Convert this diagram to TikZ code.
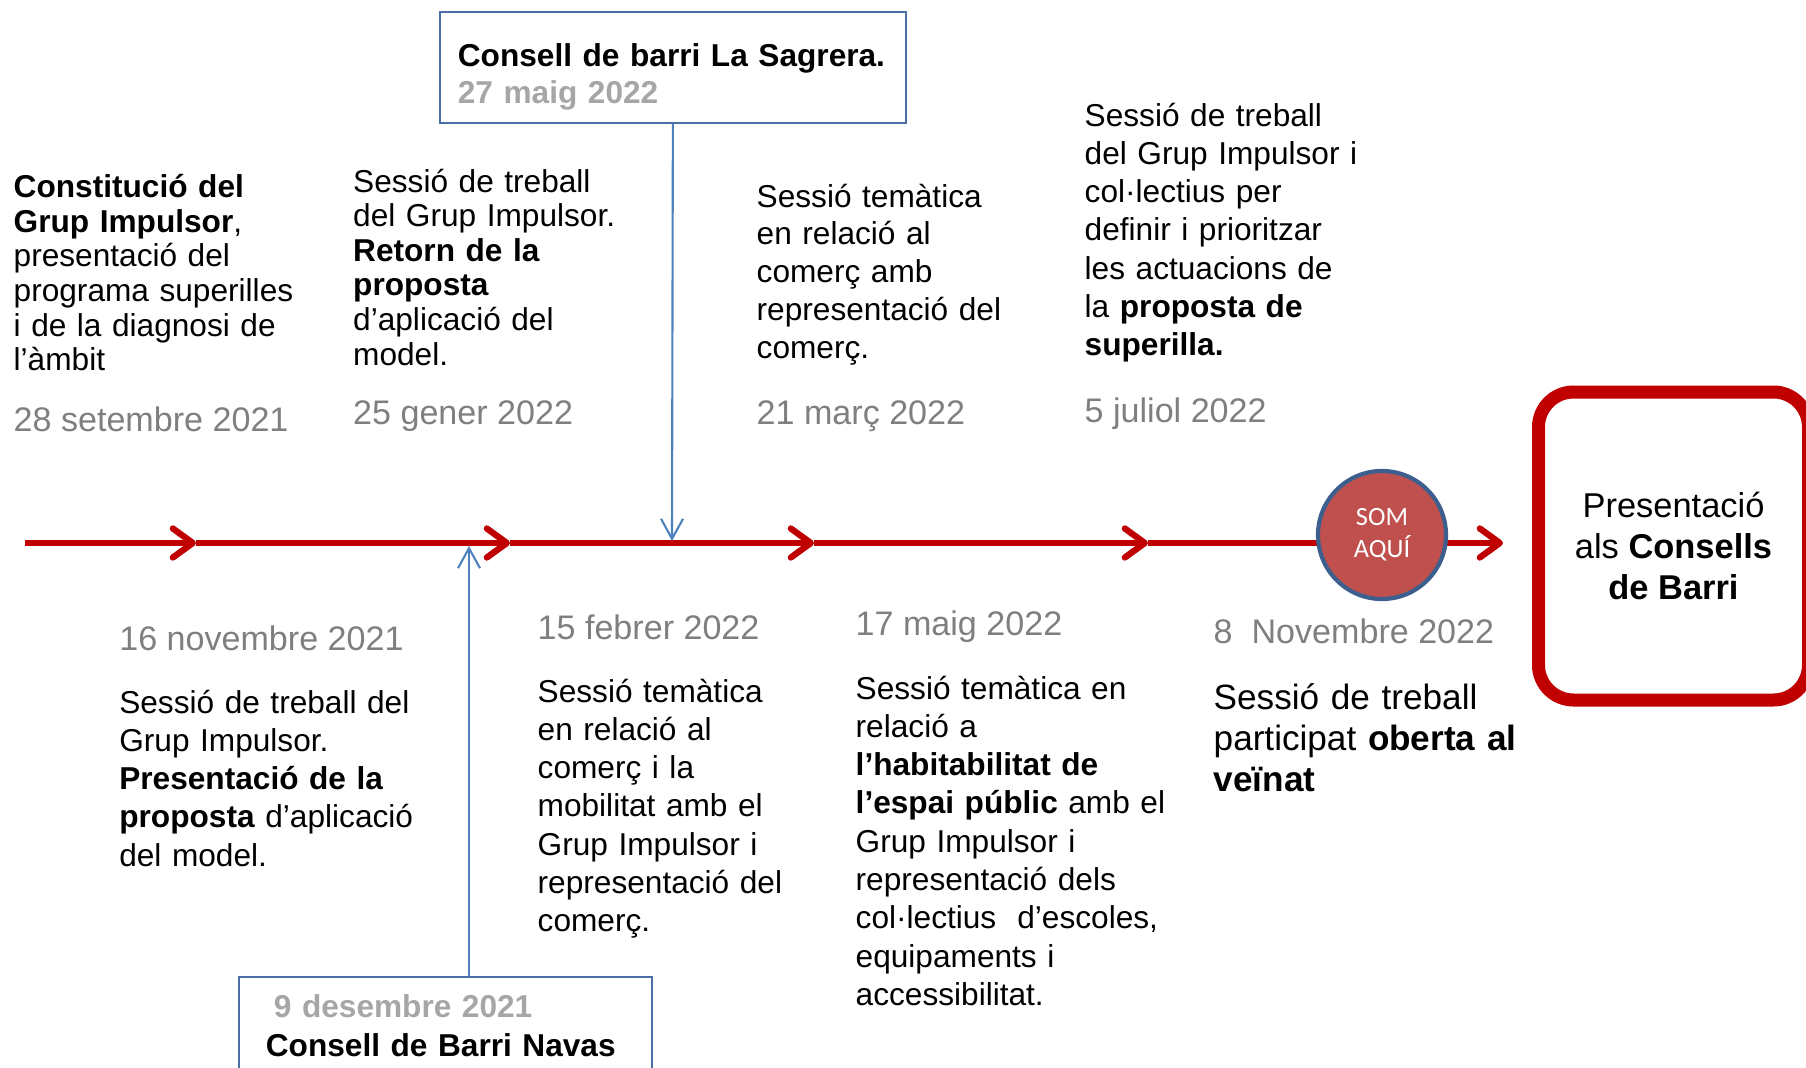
\documentclass[tikz,border=0pt]{standalone}
\usepackage{fontspec}
\setmainfont{Liberation Sans}
\newfontfamily\somfont{Carlito}
\usetikzlibrary{arrows.meta}
\definecolor{tlred}{HTML}{C00000}
\definecolor{linkblue}{HTML}{4F81BD}
\definecolor{boxblue}{HTML}{4A6FA5}
\definecolor{dategray}{HTML}{7F7F7F}
\definecolor{boxgray}{HTML}{A6A6A6}
\definecolor{somfill}{HTML}{C0504D}
\definecolor{somring}{HTML}{3D5F8E}
\tikzset{
  timeline/.style={draw=tlred, line width=1.8pt},
  chevron/.style={timeline, -{Straight Barb[length=2mm,width=2.9mm,round]}},
  link/.style={draw=linkblue, line width=0.6pt, -{Straight Barb[length=2mm,width=2.2mm]}},
  meeting/.style={draw=boxblue, line width=0.5pt, anchor=base west, align=left, inner ysep=0pt},
  datelabel/.style={anchor=base west, inner sep=0pt, text=dategray, font=\fontsize{9.7pt}{11pt}\selectfont},
  session/.style={anchor=base west, inner sep=0pt, text width=3.6cm, align=left, font=\fontsize{9pt}{10.9pt}\selectfont},
  tight/.style={font=\fontsize{9pt}{9.85pt}\selectfont},
}
\begin{document}
\begin{tikzpicture}
  \useasboundingbox (0,0) rectangle (18.06,-10.68);

  % timeline
  \coordinate (t0) at (0.25,-5.43);
  \coordinate (t1) at (1.96,-5.43);
  \coordinate (t2) at (5.10,-5.43);
  \coordinate (t3) at (8.14,-5.43);
  \coordinate (t4) at (11.48,-5.43);
  \coordinate (t5) at (15.03,-5.43);
  \draw[chevron] (t0) -- (t1);
  \draw[chevron] (t1) -- (t2);
  \draw[chevron] (t2) -- (t3);
  \draw[chevron] (t3) -- (t4);
  \draw[chevron] (t4) -- (t5);
  \node[circle, draw=somring, line width=1.2pt, fill=somfill, minimum size=1.28cm, inner sep=0pt,
    align=center, text=white, font=\somfont\fontsize{7.5pt}{9.1pt}\selectfont] (som) at (13.82,-5.35) {SOM\\AQUÍ};

  \node[draw=tlred, line width=3.7pt, rounded corners=0.35cm, minimum width=2.70cm, minimum height=3.08cm,
    align=center, font=\fontsize{9.8pt}{11.8pt}\selectfont] (consells) at (16.735,-5.46)
    {Presentació\\als \textbf{Consells}\\\textbf{de Barri}};

  % consells de barri
  \node[meeting, text width=4.3cm, inner xsep=0.18cm, text height=0.54cm, text depth=0.57cm,
    font=\fontsize{9pt}{10.8pt}\selectfont\bfseries] (sagrera) at (4.39,-0.66)
    {Consell de barri La Sagrera.\\\textcolor{boxgray}{27 maig 2022}};
  \node[meeting, text width=3.59cm, inner xsep=0.27cm, text height=0.40cm, text depth=0.9cm,
    font=\fontsize{9pt}{11.1pt}\selectfont\bfseries] (navas) at (2.38,-10.17)
    {\hspace*{0.8mm}\textcolor{boxgray}{9 desembre 2021}\\Consell de Barri Navas};
  \coordinate (hit1) at (6.72,-5.41);
  \coordinate (hit2) at (4.69,-5.46);
  \draw[link] (sagrera.south) -- (hit1);
  \draw[link] (hit2 |- navas.north) -- (hit2);

  % above the line
  \node[session, tight] (constitucio) at (0.13,-1.976)
    {\textbf{Constitució del}\\\textbf{Grup Impulsor},\\presentació del\\programa superilles\\i de la diagnosi de\\l’àmbit};
  \node[datelabel] (d-set21) at (0.13,-4.31) {28 setembre 2021};
  \node[session, tight] (retorn) at (3.525,-1.92)
    {Sessió de treball\\del Grup Impulsor.\\\textbf{Retorn de la}\\\textbf{proposta}\\d’aplicació del\\model.};
  \node[datelabel] (d-gen22) at (3.525,-4.24) {25 gener 2022};
  \node[session, font=\fontsize{9pt}{10.8pt}\selectfont] (comerc) at (7.56,-2.07)
    {Sessió temàtica\\en relació al\\comerç amb\\representació del\\comerç.};
  \node[datelabel] (d-mar22) at (7.56,-4.24) {21 març 2022};
  \node[session] (prioritzar) at (10.84,-1.26)
    {Sessió de treball\\del Grup Impulsor i\\col·lectius per\\definir i prioritzar\\les actuacions de\\la \textbf{proposta de}\\\textbf{superilla.}};
  \node[datelabel] (d-jul22) at (10.84,-4.22) {5 juliol 2022};

  % below the line
  \node[datelabel] (d-nov21) at (1.186,-6.50) {16 novembre 2021};
  \node[session] (presentacio) at (1.186,-7.13)
    {Sessió de treball del\\Grup Impulsor.\\\textbf{Presentació de la}\\\textbf{proposta} d’aplicació\\del model.};
  \node[datelabel] (d-feb22) at (5.37,-6.39) {15 febrer 2022};
  \node[session] (mobilitat) at (5.37,-7.02)
    {Sessió temàtica\\en relació al\\comerç i la\\mobilitat amb el\\Grup Impulsor i\\representació del\\comerç.};
  \node[datelabel] (d-mai22) at (8.55,-6.35) {17 maig 2022};
  \node[session] (habitabilitat) at (8.55,-6.99)
    {Sessió temàtica en\\relació a\\\textbf{l’habitabilitat de}\\\textbf{l’espai públic} amb el\\Grup Impulsor i\\representació dels\\col·lectius~ d’escoles,\\equipaments i\\accessibilitat.};
  \node[datelabel] (d-nov22) at (12.13,-6.43) {8~ Novembre 2022};
  \node[session, font=\fontsize{10pt}{11.8pt}\selectfont] (veinat) at (12.13,-7.09)
    {Sessió de treball\\participat \textbf{oberta al}\\\textbf{veïnat}};
\end{tikzpicture}
\end{document}
